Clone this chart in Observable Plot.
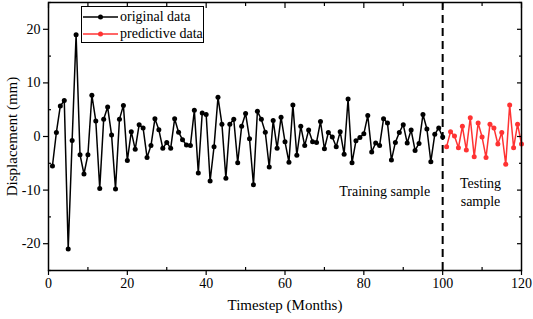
<!DOCTYPE html>
<html><head><meta charset="utf-8">
<script src="https://cdn.jsdelivr.net/npm/d3@7"></script>
<script src="https://cdn.jsdelivr.net/npm/@observablehq/plot@0.6"></script>
<style>
body{margin:0;background:#fff;}
#wrap{position:relative;width:533px;height:319px;font-family:"Liberation Serif","Times New Roman",serif;color:#000;}
#legend{position:absolute;left:81px;top:6px;width:123px;height:37px;border:1px solid #000;background:#fff;box-sizing:border-box;font-size:14px;padding-top:2px;}
.row{display:flex;align-items:center;height:16px;line-height:16px;margin-bottom:1px;}
.row svg{margin-left:1px;margin-right:2px;}
</style>
</head><body>
<div id="wrap"><div id="chart"></div><div id="legend"></div></div>
<script>
// Data
const originalMonths = d3.range(1, 101);
const originalValues = [
  -5.5, 0.75, 5.7, 6.7, -21, -0.75, 19, -3.4, -7, -3.4,
  7.7, 2.9, -9.7, 3.2, 5.5, 0.3, -9.8, 3.2, 5.8, -4.5,
  0.9, -2.4, 2.2, 1.6, -3.9, -1.7, 3.3, 1.25, -2.2, -1.1,
  -2.2, 3.3, 0.8, -0.6, -1.6, -1.7, 4.9, -6.8, 4.4, 4.1,
  -8.3, -1.9, 7.3, 2.3, -7.8, 2.3, 3.2, -4.9, 1.9, 4.3,
  -0.4, -9.0, 4.7, 3.2, 0.8, -5.7, 3.0, -2.2, 3.6, -1.0,
  -4.8, 5.9, -3.5, 1.9, -1.7, 1.2, -1.0, -1.1, 2.8, -2.3,
  0.75, -0.1, -1.9, 0.9, -3.3, 7.0, -4.9, -0.8, -0.2, 0.5,
  3.9, -2.9, -1.2, -1.7, 3.3, 2.5, -4.4, -1.1, 0.75, 2.2,
  -1.2, 1.2, -2.6, -1.3, 4.1, 1.4, -4.7, 0.4, 1.6, -0.1
];
const predictiveMonths = d3.range(101, 121);
const predictiveValues = [
  -1.9, 0.9, 0.1, -2.1, 1.9, -2.5, 3.5, -3.8, 2.5, -0.1,
  -3.9, 2.3, 1.6, -1.4, 0.75, -5.2, 5.9, -2.1, 2.3, -1.4
];
const splitMonth = [100];
const xMajorTicks = [0, 20, 40, 60, 80, 100, 120];
const xMinorTicks = [10, 30, 50, 70, 90, 110];
const yMajorTicks = [-20, -10, 0, 10, 20];
const yMinorTicks = [-25, -15, -5, 5, 15, 25];
const seriesNames = ["original data", "predictive data"];
const seriesColors = ["#000000", "#ff3333"];
const annotationTexts = ["Training sample", "Testing\nsample"];
const annotationX = [85.3, 109.6];
const annotationY = [-10.1, -10.2];

const original = originalMonths.map((t, i) => ({t, v: originalValues[i]}));
const predictive = predictiveMonths.map((t, i) => ({t, v: predictiveValues[i]}));
const annotations = annotationTexts.map((text, i) => ({text, x: annotationX[i], y: annotationY[i]}));
const fmt = d => String(d);

const chart = Plot.plot({
  width: 533, height: 319,
  marginLeft: 48, marginRight: 12, marginTop: 2, marginBottom: 49,
  style: {fontFamily: "'Liberation Serif', 'Times New Roman', serif", fontSize: "14px", color: "#000", background: "#fff", overflow: "visible"},
  x: {domain: [0, 120]},
  y: {domain: [-25, 25]},
  marks: [
    Plot.ruleX(splitMonth, {stroke: "#000", strokeWidth: 2, strokeDasharray: "8,5"}),
    Plot.line(original, {x: "t", y: "v", stroke: seriesColors[0], strokeWidth: 1.5}),
    Plot.dot(original, {x: "t", y: "v", fill: seriesColors[0], r: 2.5}),
    Plot.line(predictive, {x: "t", y: "v", stroke: seriesColors[1], strokeWidth: 1.5}),
    Plot.dot(predictive, {x: "t", y: "v", fill: seriesColors[1], r: 2.5}),
    Plot.text(annotations, {x: "x", y: "y", text: "text", fontSize: 14, lineHeight: 1.25, fill: "#000"}),
    Plot.frame({stroke: "#000", strokeWidth: 1.5}),
    Plot.axisX({ticks: xMajorTicks, tickSize: 5, tickPadding: 3, tickFormat: fmt, label: null, strokeWidth: 1.2, fontSize: 14}),
    Plot.axisX({ticks: xMinorTicks, tickSize: -3, fill: "none", label: null, strokeWidth: 1.2}),
    Plot.axisX({anchor: "top", ticks: xMajorTicks, tickSize: -5, fill: "none", label: null, strokeWidth: 1.2}),
    Plot.axisX({anchor: "top", ticks: xMinorTicks, tickSize: -3, fill: "none", label: null, strokeWidth: 1.2}),
    Plot.axisY({ticks: yMajorTicks, tickSize: 5, tickPadding: 3, tickFormat: fmt, label: null, strokeWidth: 1.2, fontSize: 14}),
    Plot.axisY({ticks: yMinorTicks, tickSize: -3, fill: "none", label: null, strokeWidth: 1.2}),
    Plot.axisY({anchor: "right", ticks: yMajorTicks, tickSize: -5, fill: "none", label: null, strokeWidth: 1.2}),
    Plot.axisY({anchor: "right", ticks: yMinorTicks, tickSize: -3, fill: "none", label: null, strokeWidth: 1.2}),
    Plot.axisX({ticks: [], tickSize: 0, label: "Timestep (Months)", labelAnchor: "center", labelArrow: "none", labelOffset: 39, fontSize: 15}),
    Plot.axisY({ticks: [], tickSize: 0, label: "Displacement (mm)", labelAnchor: "center", labelArrow: "none", labelOffset: 42, fontSize: 15})
  ]
});
document.getElementById("chart").appendChild(chart);

// Legend inside the plot area
const legend = d3.select("#legend");
seriesNames.forEach((name, i) => {
  const row = legend.append("div").attr("class", "row");
  const sw = row.append("svg").attr("width", 35).attr("height", 10);
  sw.append("line").attr("x1", 0).attr("x2", 35).attr("y1", 5).attr("y2", 5)
    .attr("stroke", seriesColors[i]).attr("stroke-width", 1.5);
  sw.append("circle").attr("cx", 17.5).attr("cy", 5).attr("r", 2.5).attr("fill", seriesColors[i]);
  row.append("span").text(name);
});
</script>
</body></html>
